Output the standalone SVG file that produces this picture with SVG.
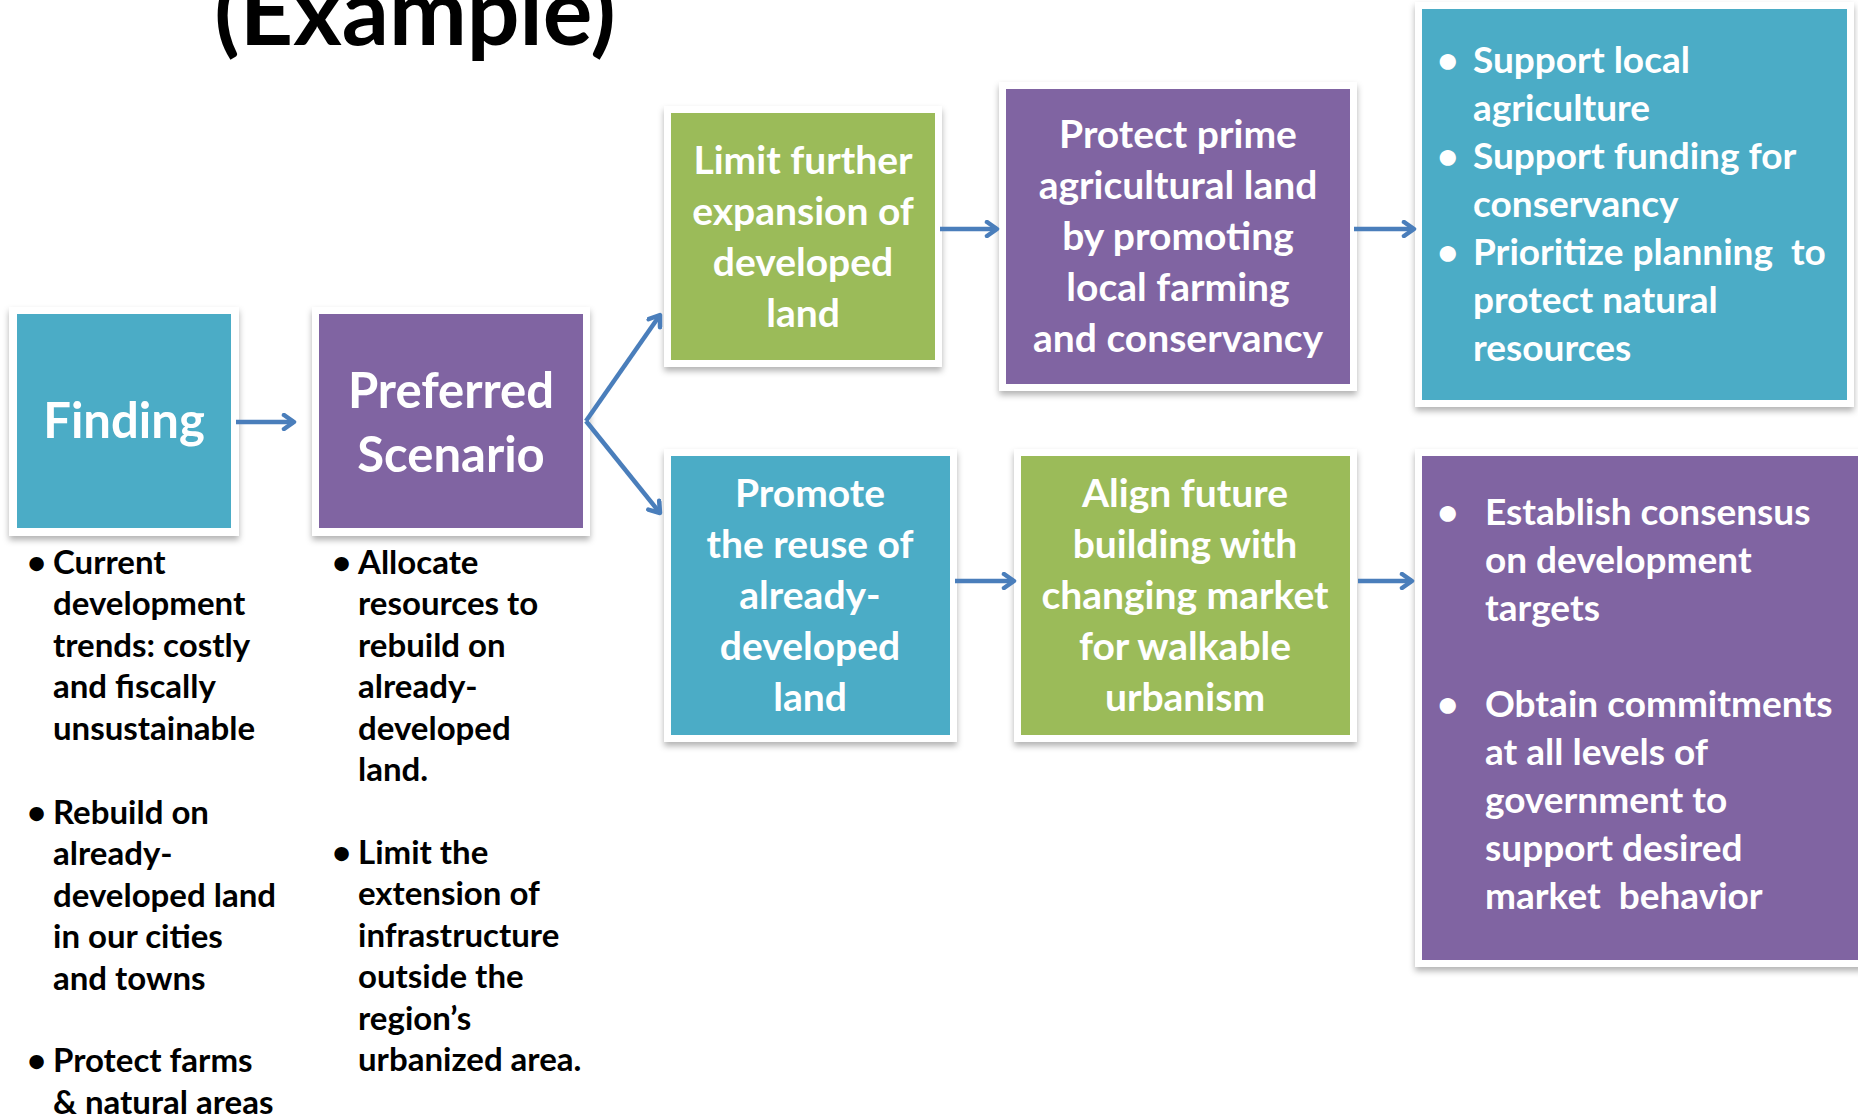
<svg xmlns="http://www.w3.org/2000/svg" width="1858" height="1117" viewBox="0 0 1858 1117">
<style>
text{font-family:Lato,"Open Sans","Liberation Sans",sans-serif;font-weight:bold}
.w{fill:#fff}
.k{fill:#000}
.c{text-anchor:middle}
.big{font-size:49px}
.box{font-size:39px}
.rb{font-size:37px}
.lb{font-size:33px}
.frame{fill:#fff;filter:url(#sh)}
.teal{fill:#4BACC6}
.purple{fill:#8064A2}
.green{fill:#9BBB59}
.conn{fill:none;stroke:#4A7EBB;stroke-width:4.5;marker-end:url(#ah)}
</style>
<defs>
<filter id="sh" x="-10%" y="-10%" width="120%" height="125%">
<feDropShadow dx="0" dy="4" stdDeviation="3" flood-color="#000" flood-opacity="0.3"/>
</filter>
<marker id="ah" viewBox="0 0 18 18" refX="14" refY="9" markerWidth="18" markerHeight="18" markerUnits="userSpaceOnUse" orient="auto">
<path d="M4,2 L14,9 L4,16" fill="none" stroke="#4A7EBB" stroke-width="4.5" stroke-linecap="round" stroke-linejoin="round"/>
</marker>
</defs>
<rect width="1858" height="1117" fill="#fff"/>

<text id="title" class="k c" x="415" y="45" style="font-size:93px">(Example)</text>

<g id="finding">
<rect class="frame" x="9" y="307" width="230" height="229"/>
<rect class="teal" x="17" y="314" width="214" height="214"/>
<text class="w c big" x="124" y="438">Finding</text>
</g>

<g id="preferred">
<rect class="frame" x="312" y="307" width="278" height="229"/>
<rect class="purple" x="319" y="314" width="264" height="214"/>
<text class="w c big" x="451" y="408">Preferred</text>
<text class="w c big" x="451" y="472">Scenario</text>
</g>

<g id="limit">
<rect class="frame" x="664" y="106" width="278" height="261"/>
<rect class="green" x="671" y="113" width="264" height="247"/>
<text class="w c box" x="803" y="174">Limit further</text>
<text class="w c box" x="803" y="225">expansion of</text>
<text class="w c box" x="803" y="276">developed</text>
<text class="w c box" x="803" y="327">land</text>
</g>

<g id="protect">
<rect class="frame" x="999" y="82" width="358" height="309"/>
<rect class="purple" x="1006" y="89" width="344" height="295"/>
<text class="w c box" x="1178" y="148">Protect prime</text>
<text class="w c box" x="1178" y="199">agricultural land</text>
<text class="w c box" x="1178" y="250">by promoting</text>
<text class="w c box" x="1178" y="301">local farming</text>
<text class="w c box" x="1178" y="352">and conservancy</text>
</g>

<g id="agri-actions">
<rect class="frame" x="1415" y="2" width="439" height="405"/>
<rect class="teal" x="1422" y="9" width="425" height="391"/>
<text class="w rb" x="1437" y="73">•</text>
<text class="w rb" x="1473" y="73">Support local</text>
<text class="w rb" x="1473" y="121">agriculture</text>
<text class="w rb" x="1437" y="169">•</text>
<text class="w rb" x="1473" y="169">Support funding for</text>
<text class="w rb" x="1473" y="217">conservancy</text>
<text class="w rb" x="1437" y="265">•</text>
<text class="w rb" x="1473" y="265" xml:space="preserve">Prioritize planning  to</text>
<text class="w rb" x="1473" y="313">protect natural</text>
<text class="w rb" x="1473" y="361">resources</text>
</g>

<g id="promote">
<rect class="frame" x="664" y="449" width="293" height="293"/>
<rect class="teal" x="671" y="456" width="279" height="279"/>
<text class="w c box" x="810" y="507">Promote</text>
<text class="w c box" x="810" y="558">the reuse of</text>
<text class="w c box" x="810" y="609">already-</text>
<text class="w c box" x="810" y="660">developed</text>
<text class="w c box" x="810" y="711">land</text>
</g>

<g id="align">
<rect class="frame" x="1014" y="449" width="343" height="293"/>
<rect class="green" x="1021" y="456" width="329" height="279"/>
<text class="w c box" x="1185" y="507">Align future</text>
<text class="w c box" x="1185" y="558">building with</text>
<text class="w c box" x="1185" y="609">changing market</text>
<text class="w c box" x="1185" y="660">for walkable</text>
<text class="w c box" x="1185" y="711">urbanism</text>
</g>

<g id="market-actions">
<rect class="frame" x="1415" y="449" width="460" height="518"/>
<rect class="purple" x="1422" y="456" width="450" height="504"/>
<text class="w rb" x="1437" y="525">•</text>
<text class="w rb" x="1485" y="525">Establish consensus</text>
<text class="w rb" x="1485" y="573">on development</text>
<text class="w rb" x="1485" y="621">targets</text>
<text class="w rb" x="1437" y="717">•</text>
<text class="w rb" x="1485" y="717">Obtain commitments</text>
<text class="w rb" x="1485" y="765">at all levels of</text>
<text class="w rb" x="1485" y="813">government to</text>
<text class="w rb" x="1485" y="861">support desired</text>
<text class="w rb" x="1485" y="909" xml:space="preserve">market  behavior</text>
</g>

<g id="finding-notes">
<text class="k lb" x="27" y="574">•</text>
<text class="k lb" x="53" y="574">Current</text>
<text class="k lb" x="53" y="615">development</text>
<text class="k lb" x="53" y="657">trends: costly</text>
<text class="k lb" x="53" y="698">and fiscally</text>
<text class="k lb" x="53" y="740">unsustainable</text>
<text class="k lb" x="27" y="824">•</text>
<text class="k lb" x="53" y="824">Rebuild on</text>
<text class="k lb" x="53" y="865">already-</text>
<text class="k lb" x="53" y="907">developed land</text>
<text class="k lb" x="53" y="948">in our cities</text>
<text class="k lb" x="53" y="990">and towns</text>
<text class="k lb" x="27" y="1072">•</text>
<text class="k lb" x="53" y="1072">Protect farms</text>
<text class="k lb" x="53" y="1114">&amp; natural areas</text>
</g>

<g id="scenario-notes">
<text class="k lb" x="332" y="574">•</text>
<text class="k lb" x="358" y="574">Allocate</text>
<text class="k lb" x="358" y="615">resources to</text>
<text class="k lb" x="358" y="657">rebuild on</text>
<text class="k lb" x="358" y="698">already-</text>
<text class="k lb" x="358" y="740">developed</text>
<text class="k lb" x="358" y="781">land.</text>
<text class="k lb" x="332" y="864">•</text>
<text class="k lb" x="358" y="864">Limit the</text>
<text class="k lb" x="358" y="905">extension of</text>
<text class="k lb" x="358" y="947">infrastructure</text>
<text class="k lb" x="358" y="988">outside the</text>
<text class="k lb" x="358" y="1030">region’s</text>
<text class="k lb" x="358" y="1071">urbanized area.</text>
</g>

<g id="connectors">
<line class="conn" x1="236" y1="422" x2="294" y2="422"/>
<line class="conn" x1="586" y1="421" x2="660" y2="315"/>
<line class="conn" x1="586" y1="421" x2="660" y2="513"/>
<line class="conn" x1="940" y1="229" x2="997" y2="229"/>
<line class="conn" x1="1354" y1="229" x2="1414" y2="229"/>
<line class="conn" x1="955" y1="581" x2="1014" y2="581"/>
<line class="conn" x1="1358" y1="581" x2="1412" y2="581"/>
</g>
</svg>
